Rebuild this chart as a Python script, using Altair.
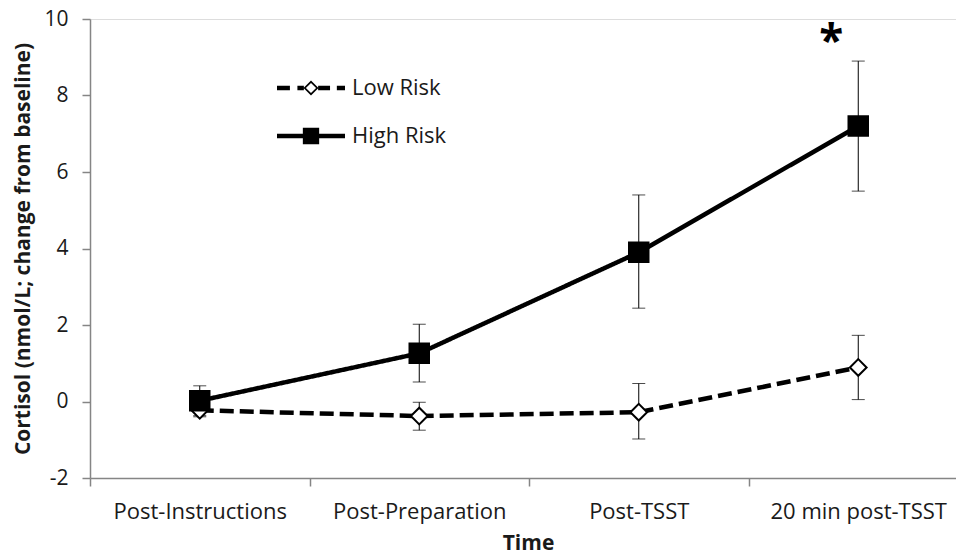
import altair as alt
import pandas as pd

times = ["Post-Instructions", "Post-Preparation", "Post-TSST", "20 min post-TSST"]
groups = ["Low Risk", "High Risk"]
low_mean = [-0.23, -0.38, -0.28, 0.89]
low_lo = [-0.40, -0.75, -0.98, 0.05]
low_hi = [-0.06, -0.02, 0.47, 1.73]
high_mean = [0.02, 1.26, 3.90, 7.20]
high_lo = [-0.37, 0.51, 2.44, 5.50]
high_hi = [0.41, 2.02, 5.40, 8.90]
y_ticks = [-2, 0, 2, 4, 6, 8, 10]
sig_time = ["20 min post-TSST"]
sig_y = [9.05]
sig_text = ["*"]

rows = []
for g, m, lo, hi in [(groups[0], low_mean, low_lo, low_hi),
                     (groups[1], high_mean, high_lo, high_hi)]:
    for t, mv, l, h in zip(times, m, lo, hi):
        rows.append({"time": t, "group": g, "mean": mv, "lo": l, "hi": h})
df = pd.DataFrame(rows)
sig_df = pd.DataFrame({"time": sig_time, "ys": sig_y, "txt": sig_text})

FONT = "Open Sans"
AX = "#858585"
TXT = "#1a1a1a"

# the reference's category axis runs past the right edge of the picture
x_scale = alt.Scale(type="band", domain=times, paddingInner=0, paddingOuter=0, range=[0, 878])
y_scale = alt.Scale(domain=[-2, 10], nice=False, zero=False)

x_axis = alt.Axis(title="Time", tickBand="extent", labelAngle=0, grid=False,
                  labelFont=FONT, labelFontSize=22, labelColor=TXT, labelPadding=15,
                  titleFont=FONT, titleFontSize=21, titleFontWeight="bold", titleColor=TXT,
                  titlePadding=10, titleX=438, titleAnchor="middle",
                  domainColor=AX, tickColor=AX, tickSize=8,
                  domainWidth=1.5, tickWidth=1.5)
y_axis = alt.Axis(title="Cortisol (nmol/L; change from baseline)", values=y_ticks, grid=False,
                  labelExpr="datum.value",
                  labelFont=FONT, labelFontSize=21, labelColor=TXT, labelPadding=14,
                  titleFont=FONT, titleFontSize=21, titleFontWeight="bold", titleColor=TXT,
                  titlePadding=10, domainColor=AX, tickColor=AX, tickSize=8,
                  domainWidth=1.5, tickWidth=1.5)

X = alt.X("time:N", sort=times, scale=x_scale, axis=x_axis)
Y = alt.Y("mean:Q", scale=y_scale, axis=y_axis)

base = alt.Chart(df)

lines = base.mark_line(color="black", strokeWidth=4.5, strokeCap="butt").encode(
    x=X, y=Y,
    detail="group:N",
    strokeDash=alt.StrokeDash("group:N", scale=alt.Scale(domain=groups, range=[[14, 6], [1, 0]]), legend=None),
)

rules = base.mark_rule(color="black", strokeWidth=1).encode(
    x=alt.X("time:N", sort=times), y=alt.Y("lo:Q"), y2="hi:Q")
ticks_lo = base.mark_tick(color="black", thickness=1, size=13).encode(
    x=alt.X("time:N", sort=times), y=alt.Y("lo:Q"))
ticks_hi = base.mark_tick(color="black", thickness=1, size=13).encode(
    x=alt.X("time:N", sort=times), y=alt.Y("hi:Q"))

points = base.mark_point(filled=True, stroke="black", strokeWidth=2, opacity=1).encode(
    x=alt.X("time:N", sort=times), y=alt.Y("mean:Q"),
    shape=alt.Shape("group:N", scale=alt.Scale(domain=groups, range=["diamond", "square"]), legend=None),
    fill=alt.Fill("group:N", scale=alt.Scale(domain=groups, range=["white", "black"]), legend=None),
    size=alt.Size("group:N", scale=alt.Scale(domain=groups, range=[280, 380]), legend=None),
)

star = alt.Chart(sig_df).mark_text(fontSize=44, fontWeight="bold", font=FONT, color="black",
                                   dx=-27, dy=1, baseline="alphabetic").encode(
    x=alt.X("time:N", sort=times), y=alt.Y("ys:Q"), text="txt:N")

low_path = ("M-1,-0.065H-0.62V0.065H-1Z "
            "M-0.40,-0.065H-0.21V0.065H-0.40Z "
            "M0,-0.22L0.22,0L0,0.22L-0.22,0Z M0,-0.15L-0.15,0L0,0.15L0.15,0Z "
            "M0.21,-0.065H0.56V0.065H0.21Z "
            "M0.76,-0.065H1V0.065H0.76Z")
high_path = "M-1,-0.065H1V0.065H-1Z M-0.24,-0.24H0.24V0.24H-0.24Z"
LEG_SIZE = 4624

legend_layer = base.mark_point(filled=True, color="black", size=LEG_SIZE, strokeWidth=0, opacity=1).encode(
    shape=alt.Shape("group:N", scale=alt.Scale(domain=groups, range=[low_path, high_path]),
                    legend=alt.Legend(orient="none", legendX=187, legendY=35, title=None,
                                      labelFont=FONT, labelFontSize=22, labelColor=TXT,
                                      labelOffset=7, symbolSize=LEG_SIZE, symbolStrokeWidth=0,
                                      symbolFillColor="black", symbolOpacity=1, rowPadding=3,
                                      padding=0)),
).transform_filter("false")

chart = alt.layer(lines, rules, ticks_lo, ticks_hi, points, star, legend_layer).resolve_scale(
    shape="independent"
).properties(
    width=866, height=459,
    autosize=alt.AutoSizeParams(type="none"),
    padding={"left": 82, "top": 11, "right": 0, "bottom": 80},
).configure_view(stroke=None).configure(background="white")

chart.save("out.html", embed_options={"renderer": "svg", "actions": False})
